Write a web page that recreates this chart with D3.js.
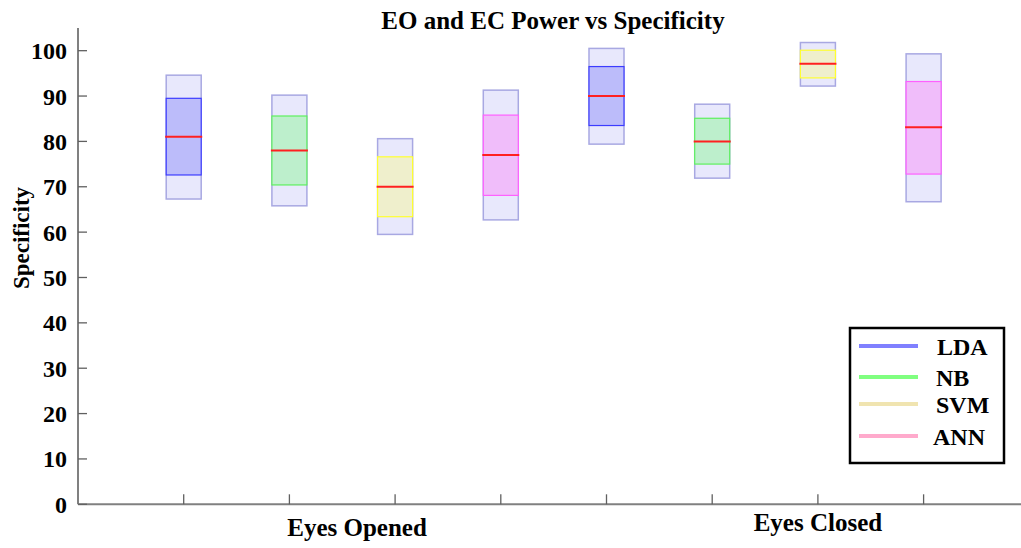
<!DOCTYPE html>
<html>
<head>
<meta charset="utf-8">
<script src="https://cdn.jsdelivr.net/npm/d3@7"></script>
<style>
  html, body { margin: 0; padding: 0; background: #fff; }
  svg { display: block; }
  text { font-family: "Liberation Serif", "Times New Roman", serif; font-weight: bold; fill: #000; }
</style>
</head>
<body>
<svg id="chart" width="1021" height="548"></svg>
<script>
// Specificity results per classifier, eyes opened (EO) then eyes closed (EC)
const methods = ["LDA", "NB", "SVM", "ANN"];
const conditions = ["Eyes Opened", "Eyes Closed"];
const outerLow  = [67.3, 65.8, 59.5, 62.7, 79.4, 71.9, 92.2, 66.7];
const innerLow  = [72.6, 70.4, 63.4, 68.1, 83.5, 75.0, 94.0, 72.8];
const medians   = [81.0, 78.0, 70.0, 77.0, 90.0, 80.0, 97.1, 83.1];
const innerHigh = [89.5, 85.6, 76.6, 85.8, 96.5, 85.1, 100.1, 93.2];
const outerHigh = [94.6, 90.2, 80.6, 91.3, 100.5, 88.2, 101.8, 99.3];
const yTicks = [0, 10, 20, 30, 40, 50, 60, 70, 80, 90, 100];

const fillColor   = { LDA: "#bcbcfa", NB: "#bdefcc", SVM: "#efefcc", ANN: "#f0bdfa" };
const strokeColor = { LDA: "#3c3cff", NB: "#5ef05e", SVM: "#ffff30", ANN: "#ff60ff" };
const legendColor = { LDA: "#8080ff", NB: "#80ff80", SVM: "#f0e4b0", ANN: "#ffaacc" };

const boxes = outerLow.map((d, i) => ({
  pos: i + 1,
  method: methods[i % methods.length],
  condition: conditions[Math.floor(i / methods.length)],
  lo: d, q1: innerLow[i], med: medians[i], q3: innerHigh[i], hi: outerHigh[i]
}));

const svg = d3.select("#chart");
const plotLeft = 78, plotBottom = 504.3, plotTop = 28;

const x = d3.scaleLinear().domain([0, 9]).range([plotLeft, plotLeft + 9 * 105.7]);
const y = d3.scaleLinear().domain([0, 105]).range([plotBottom, plotTop]);
const boxW = 35;

// Axes
const axisColor = "#808080";
svg.append("line").attr("x1", plotLeft).attr("x2", plotLeft).attr("y1", y(105)).attr("y2", plotBottom)
  .attr("stroke", axisColor).attr("stroke-width", 2);
svg.append("line").attr("x1", plotLeft).attr("x2", 1021).attr("y1", plotBottom).attr("y2", plotBottom)
  .attr("stroke", axisColor).attr("stroke-width", 2);

svg.selectAll(".ytick").data(yTicks).join("line")
  .attr("x1", plotLeft).attr("x2", plotLeft + 9)
  .attr("y1", d => y(d)).attr("y2", d => y(d))
  .attr("stroke", "#606060").attr("stroke-width", 1.3);
svg.selectAll(".ylab").data(yTicks).join("text")
  .attr("x", 67).attr("y", d => y(d) + 8.5)
  .attr("text-anchor", "end").attr("font-size", 24)
  .text(d => d);

svg.selectAll(".xtick").data(boxes).join("line")
  .attr("x1", d => x(d.pos)).attr("x2", d => x(d.pos))
  .attr("y1", plotBottom).attr("y2", plotBottom - 10)
  .attr("stroke", "#606060").attr("stroke-width", 1.3);

// Condition labels under the axis
svg.append("text").attr("x", x(2.64)).attr("y", 536).attr("text-anchor", "middle")
  .attr("font-size", 25).text(conditions[0]);
svg.append("text").attr("x", x(7)).attr("y", 531).attr("text-anchor", "middle")
  .attr("font-size", 25).text(conditions[1]);

// Title and y label
svg.append("text").attr("x", 553).attr("y", 29).attr("text-anchor", "middle")
  .attr("font-size", 25).text("EO and EC Power vs Specificity");
svg.append("text").attr("transform", `translate(29,238) rotate(-90)`)
  .attr("text-anchor", "middle").attr("font-size", 23).text("Specificity");

// Boxes
const g = svg.append("g");
const bx = g.selectAll("g.box").data(boxes).join("g").attr("class", "box");

bx.append("rect")
  .attr("x", d => x(d.pos) - boxW / 2).attr("width", boxW)
  .attr("y", d => y(d.hi)).attr("height", d => y(d.lo) - y(d.hi))
  .attr("fill", "#e8e8fc").attr("stroke", "#a8a8e2").attr("stroke-width", 1.5);

bx.append("rect")
  .attr("x", d => x(d.pos) - boxW / 2).attr("width", boxW)
  .attr("y", d => y(d.q3)).attr("height", d => y(d.q1) - y(d.q3))
  .attr("fill", d => fillColor[d.method])
  .attr("stroke", d => strokeColor[d.method]).attr("stroke-width", 1.2);

bx.append("line")
  .attr("x1", d => x(d.pos) - boxW / 2 - 1).attr("x2", d => x(d.pos) + boxW / 2 + 1)
  .attr("y1", d => y(d.med)).attr("y2", d => y(d.med))
  .attr("stroke", "#ff2020").attr("stroke-width", 2);

// Legend
const lg = svg.append("g");
lg.append("rect").attr("x", 850).attr("y", 328).attr("width", 154).attr("height", 135)
  .attr("fill", "#fff").attr("stroke", "#000").attr("stroke-width", 2.5);
const legY = [346, 377, 404, 436];
const legTx = [937, 936, 936, 933];
const le = lg.selectAll("g.le").data(methods).join("g").attr("class", "le");
le.append("line").attr("x1", 859).attr("x2", 918)
  .attr("y1", (d, i) => legY[i]).attr("y2", (d, i) => legY[i])
  .attr("stroke", d => legendColor[d]).attr("stroke-width", 4);
le.append("text").attr("x", (d, i) => legTx[i]).attr("y", (d, i) => legY[i] + 9)
  .attr("font-size", 24).text(d => d);
</script>
</body>
</html>
